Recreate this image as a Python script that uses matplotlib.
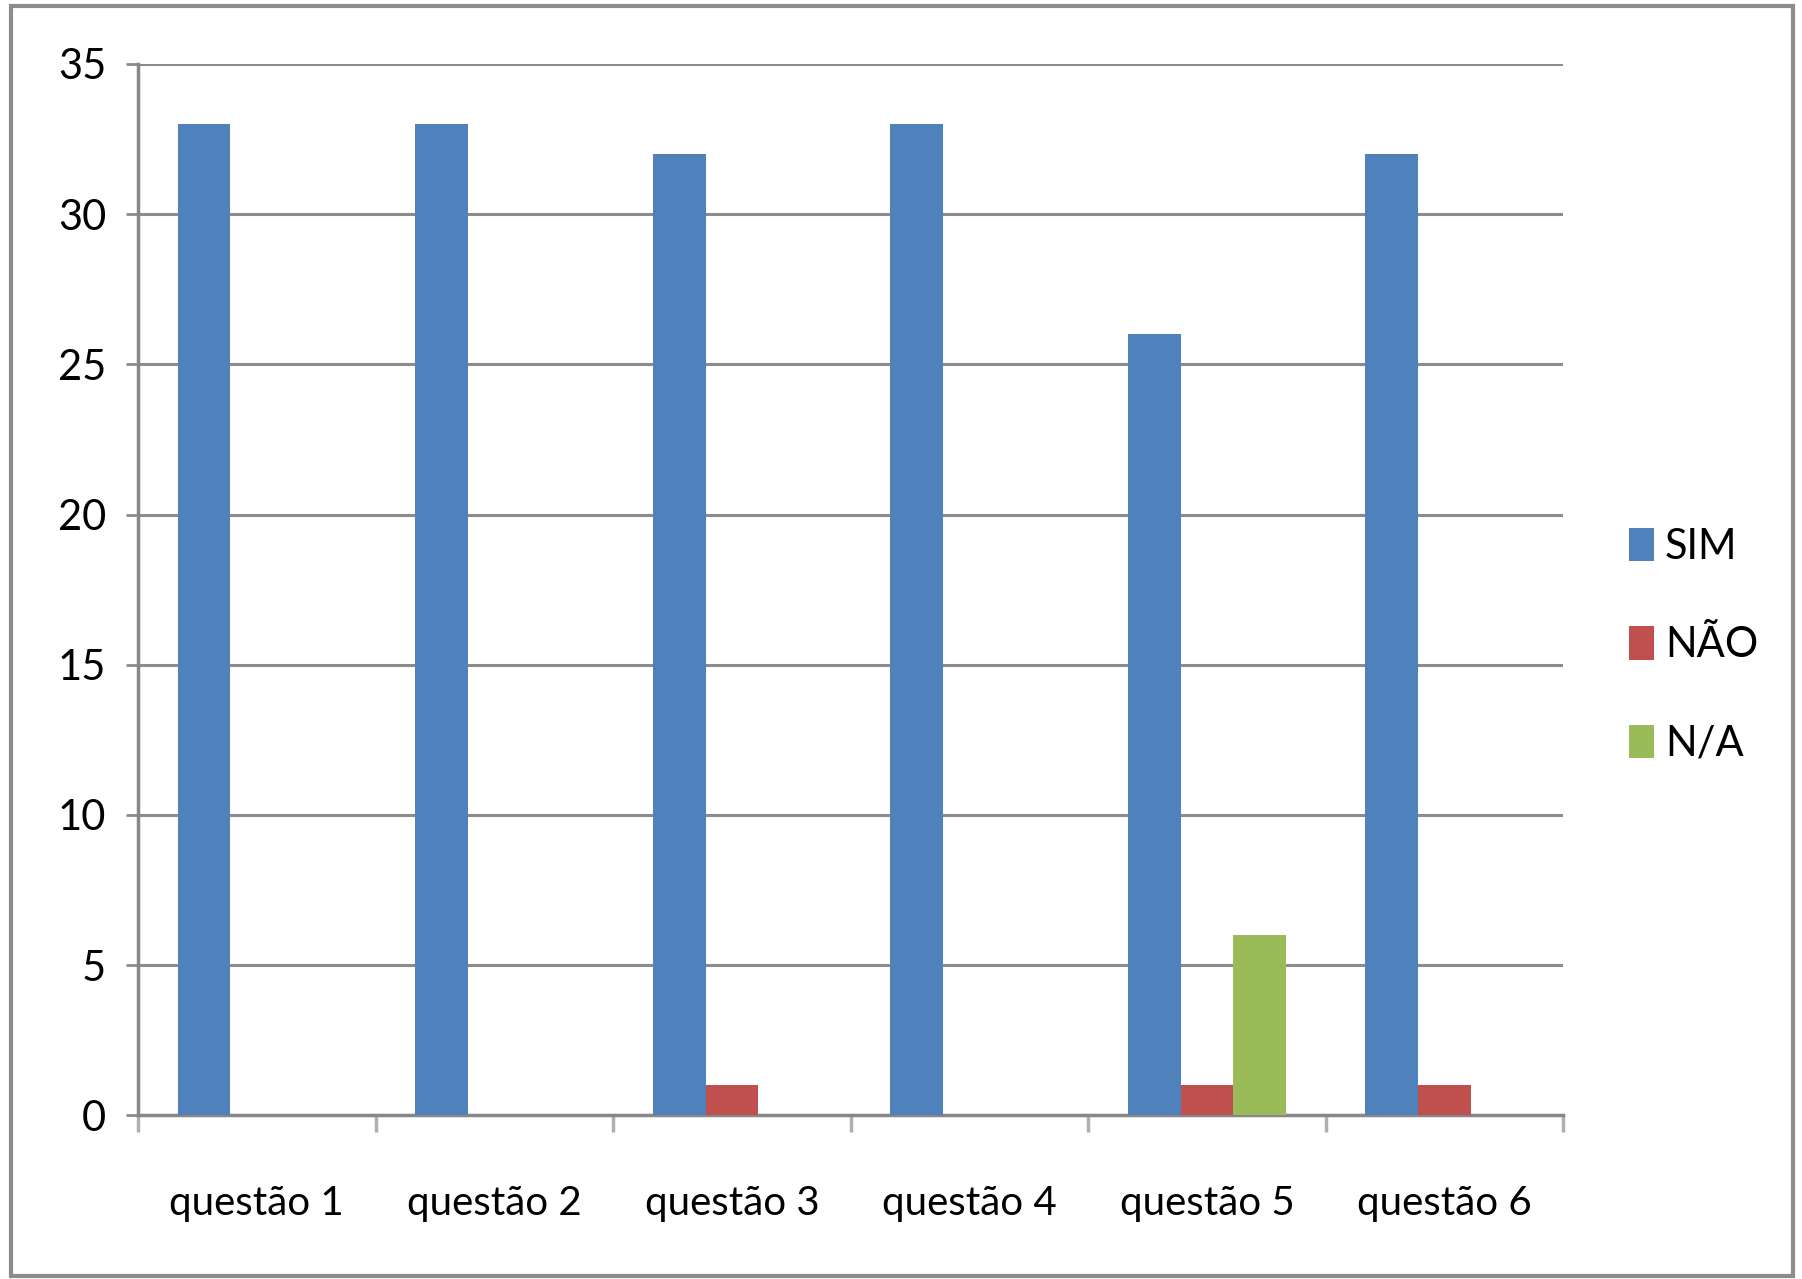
import numpy as np
import matplotlib.pyplot as plt
from matplotlib.patches import Rectangle

# values
categories = ['questão 1', 'questão 2', 'questão 3', 'questão 4', 'questão 5', 'questão 6']
sim = [33, 33, 32, 33, 26, 32]
nao = [0, 0, 1, 0, 1, 1]
na = [0, 0, 0, 0, 6, 0]
series_names = ['SIM', 'NÃO', 'N/A']
colors = ['#4f81bd', '#c0504d', '#9bbb59']

plt.rcParams['font.family'] = ['Lato', 'DejaVu Sans']

fig = plt.figure(figsize=(18.02, 12.79), dpi=100)
ax = fig.add_axes([0.0766, 0.128, 0.791, 0.822])

# outer border of the chart area
fig.patches.append(Rectangle((0.006, 0.002), 0.989, 0.993, transform=fig.transFigure,
                             fill=False, edgecolor='#8c8c8c', linewidth=3))

x = np.arange(len(categories))
w = 1 / 4.5
for i, vals in enumerate([sim, nao, na]):
    ax.bar(x + (i - 1) * w, vals, width=w, color=colors[i], label=series_names[i], zorder=3)

ax.set_xlim(-0.5, len(categories) - 0.5)
ax.set_ylim(0, 35)
ax.set_yticks(range(0, 36, 5))
ax.set_xticks(x)
ax.set_xticklabels(categories)
ax.set_xticks(np.arange(-0.5, len(categories)), minor=True)

ax.yaxis.grid(True, color='#8c8c8c', linewidth=2.2, zorder=0)
for s in ['top', 'right']:
    ax.spines[s].set_visible(False)
for s in ['left', 'bottom']:
    ax.spines[s].set_color('#878787')
    ax.spines[s].set_linewidth(2.5)

ax.tick_params(axis='y', length=9, width=2, color='#8c8c8c', labelsize=30, pad=14)
ax.tick_params(axis='x', which='major', length=0, labelsize=29, pad=50)
ax.tick_params(axis='x', which='minor', length=12, width=2.5, color='#b0b0b0')

leg = ax.legend(loc='center left', bbox_to_anchor=(1.02, 0.447), frameon=False,
                fontsize=30, handlelength=0.6, handleheight=0.85, handletextpad=0.25,
                labelspacing=1.45)

fig.savefig('out.png', dpi=100)
